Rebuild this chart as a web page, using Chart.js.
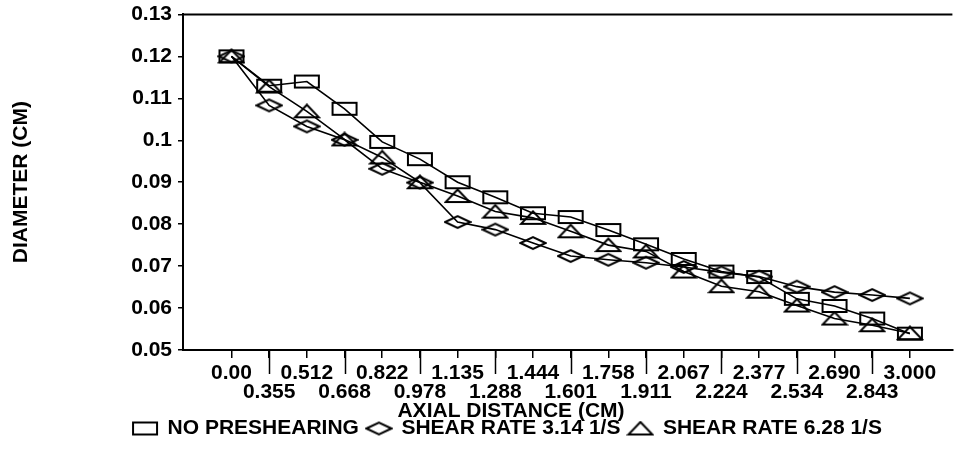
<!DOCTYPE html>
<html>
<head>
<meta charset="utf-8">
<script src="https://cdn.jsdelivr.net/npm/chart.js@4/dist/chart.umd.min.js"></script>
<style>
  html, body { margin: 0; padding: 0; background: #fff; }
  #wrap { width: 961px; height: 452px; }
</style>
</head>
<body>
<div id="wrap"><canvas id="c" width="961" height="452"></canvas></div>
<script>
// Axial positions (cm), shown as equally spaced categories
const xLabels = ['0.00', '0.355', '0.512', '0.668', '0.822', '0.978', '1.135', '1.288', '1.444',
                 '1.601', '1.758', '1.911', '2.067', '2.224', '2.377', '2.534', '2.690', '2.843', '3.000'];

const yTickValues = [0.05, 0.06, 0.07, 0.08, 0.09, 0.10, 0.11, 0.12, 0.13];
const yTickLabels = ['0.05', '0.06', '0.07', '0.08', '0.09', '0.1', '0.11', '0.12', '0.13'];

const seriesNames = ['NO PRESHEARING', 'SHEAR RATE 3.14 1/S', 'SHEAR RATE 6.28 1/S'];

// Fibre diameter (cm) along the spinline
const noPreshearing = [0.120, 0.113, 0.114, 0.1075, 0.0996, 0.0955, 0.0900, 0.0864, 0.0826, 0.0817,
                       0.0786, 0.0752, 0.0717, 0.0687, 0.0674, 0.0622, 0.0605, 0.0575, 0.0539];
const shear314 = [0.120, 0.1083, 0.1033, 0.1001, 0.0932, 0.0899, 0.0805, 0.0787, 0.0755, 0.0724,
                  0.0715, 0.0708, 0.0698, 0.0685, 0.0675, 0.0651, 0.0638, 0.0631, 0.0623];
const shear628 = [0.120, 0.1128, 0.1069, 0.1002, 0.0959, 0.0900, 0.0867, 0.0830, 0.0815, 0.0783,
                  0.0750, 0.0735, 0.0687, 0.0652, 0.0639, 0.0606, 0.0575, 0.0559, 0.0540];

const FONT = '"Liberation Sans", Arial, Helvetica, sans-serif';
const FSIZE = 21;

// Hollow outline markers drawn on small canvases
function marker(draw) {
  const c = document.createElement('canvas');
  c.width = 28; c.height = 16;
  const g = c.getContext('2d');
  g.strokeStyle = '#000';
  g.lineWidth = 2;
  g.beginPath(); draw(g); g.closePath(); g.stroke();
  return c;
}
const squareMark = marker(g => g.rect(2, 2, 24, 12));
const diamondMark = marker(g => { g.moveTo(1.5, 8); g.lineTo(14, 2); g.lineTo(26.5, 8); g.lineTo(14, 14); });
const triangleMark = marker(g => { g.moveTo(14, 1.5); g.lineTo(26, 14); g.lineTo(2, 14); });

const toPoints = arr => arr.map((v, i) => ({ x: i, y: v }));

function series(label, values, mark) {
  return {
    label: label,
    data: toPoints(values),
    borderColor: '#000',
    backgroundColor: 'rgba(0,0,0,0)',
    borderWidth: 1.6,
    tension: 0,
    fill: false,
    pointStyle: mark,
    pointRadius: 7,
    pointHoverRadius: 7
  };
}

// Frame top edge, long separators under odd ticks, and the axis caption
const framePlugin = {
  id: 'frame',
  afterLayout(chart) {
    const lg = chart.legend;
    if (lg) { lg.left += 27; lg.right += 27; }
  },
  afterDraw(chart) {
    const { ctx, chartArea } = chart;
    const xs = chart.scales.x;
    ctx.save();
    ctx.strokeStyle = '#000';
    ctx.lineWidth = 2;
    ctx.beginPath();
    ctx.moveTo(chartArea.left - 1, chartArea.top);
    ctx.lineTo(chartArea.right, chartArea.top);
    ctx.stroke();
    ctx.lineWidth = 1.5;
    xLabels.forEach((_, i) => {
      if (i % 2 === 1) {
        const px = Math.round(xs.getPixelForValue(i)) + 0.5;
        ctx.beginPath();
        ctx.moveTo(px, chartArea.bottom);
        ctx.lineTo(px, chartArea.bottom + 24);
        ctx.stroke();
      }
    });
    ctx.fillStyle = '#000';
    ctx.font = 'bold ' + FSIZE + 'px ' + FONT;
    ctx.textAlign = 'center';
    ctx.textBaseline = 'middle';
    ctx.fillText('AXIAL DISTANCE (CM)', 511, chartArea.bottom + 61);
    ctx.restore();
  }
};

new Chart(document.getElementById('c'), {
  type: 'line',
  data: {
    datasets: [
      series(seriesNames[0], noPreshearing, squareMark),
      series(seriesNames[1], shear314, diamondMark),
      series(seriesNames[2], shear628, triangleMark)
    ]
  },
  options: {
    responsive: false,
    animation: false,
    devicePixelRatio: 1,
    layout: { padding: { top: 14, right: 0, bottom: 3, left: 0 } },
    plugins: {
      tooltip: { enabled: false },
      legend: {
        position: 'bottom',
        labels: {
          usePointStyle: true,
          pointStyleWidth: 24,
          padding: 8,
          color: '#000',
          font: { family: FONT, size: FSIZE, weight: 'bold' }
        }
      }
    },
    scales: {
      x: {
        type: 'linear',
        min: -1.286,
        max: 19.128,
        border: { display: true, color: '#000', width: 2 },
        grid: { drawOnChartArea: false, drawTicks: true, tickLength: 8, color: '#000', lineWidth: 1.5 },
        afterBuildTicks: s => { s.ticks = xLabels.map((_, i) => ({ value: i })); },
        afterFit: s => { s.height = 60; },
        ticks: {
          autoSkip: false,
          maxRotation: 0,
          minRotation: 0,
          padding: 6,
          color: '#000',
          font: { family: FONT, size: FSIZE, weight: 'bold', lineHeight: 0.88 },
          callback: v => {
            const i = Math.round(v);
            return i % 2 === 0 ? [xLabels[i], ''] : ['', xLabels[i]];
          }
        }
      },
      y: {
        min: 0.05,
        max: 0.13,
        border: { display: true, color: '#000', width: 2 },
        grid: { drawOnChartArea: false, drawTicks: true, tickLength: 5, color: '#000', lineWidth: 1.5 },
        afterBuildTicks: s => { s.ticks = yTickValues.map(v => ({ value: v })); },
        afterFit: s => { s.width = 183; },
        ticks: {
          padding: 6,
          color: '#000',
          font: { family: FONT, size: FSIZE, weight: 'bold', lineHeight: 0.8 },
          callback: v => yTickLabels[yTickValues.findIndex(t => Math.abs(t - v) < 1e-9)]
        },
        title: {
          display: true,
          text: 'DIAMETER (CM)',
          color: '#000',
          font: { family: FONT, size: FSIZE, weight: 'bold', lineHeight: 1 },
          padding: { top: 11, bottom: 0 }
        }
      }
    }
  },
  plugins: [framePlugin]
});
</script>
</body>
</html>
